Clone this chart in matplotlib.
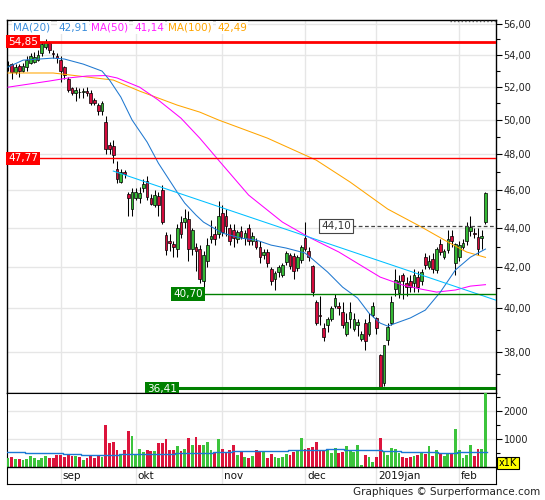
import numpy as np
import matplotlib.pyplot as plt
from matplotlib.ticker import FixedLocator, FixedFormatter, NullFormatter

plt.rcParams['font.family'] = ['DejaVu Sans']

W, H = 545, 500

# daily candles, index 0 = mid august 2018, last = feb 2019
opens = [53.3, 53.4, 52.9, 53.3, 52.95, 53.2, 53.5, 53.55, 53.7, 54.1,
         54.5, 54.75, 54.1, 53.95, 53.7, 53.2, 52.5, 51.9, 51.6, 51.7,
         51.7, 51.75, 51.6, 51.2, 50.9, 50.5, 49.9, 48.55, 48.5, 47.2,
         46.45, 47.0, 45.8, 45.0, 45.6, 45.6, 46.1, 46.5, 45.6, 45.2,
         45.7, 46.0, 43.65, 43.3, 43.15, 42.9, 44.3, 44.3, 44.45, 42.9,
         43.0, 42.9, 41.3, 42.3, 43.4, 43.7, 43.7, 44.8, 44.6, 44.0,
         43.9, 43.4, 43.85, 43.5, 44.0, 43.3, 43.3, 43.0, 42.6, 42.75,
         41.9, 41.4, 41.75, 41.6, 42.25, 42.6, 42.55, 41.95, 42.35, 43.5,
         42.8, 42.05, 40.3, 39.7, 39.1, 39.2, 39.5, 40.1, 40.1, 39.85,
         38.8, 39.5, 39.05, 39.2, 38.6, 39.3, 38.8, 39.7, 39.55, 37.85,
         36.6, 38.55, 39.3, 40.95, 40.75, 41.6, 41.2, 41.3, 41.2, 41.5,
         41.3, 42.5, 42.0, 42.4, 41.85, 43.15, 42.5, 42.85, 43.6, 42.2,
         42.5, 43.0, 43.3, 43.85, 43.75, 43.55, 43.5, 44.3]
highs = [53.6, 53.5, 53.4, 53.4, 53.5, 53.9, 54.1, 54.2, 54.3, 54.8,
         55.0, 54.9, 54.3, 54.1, 53.9, 53.3, 52.6, 52.0, 52.0, 51.9,
         51.9, 52.0, 51.8, 51.3, 51.0, 51.1, 50.2, 48.7, 48.8, 47.6,
         47.2, 47.1, 45.9, 46.1, 46.1, 46.2, 46.6, 46.8, 45.8, 46.0,
         45.9, 46.3, 43.8, 43.7, 43.3, 44.2, 44.6, 45.0, 44.9, 44.0,
         43.2, 43.1, 42.8, 43.5, 44.4, 44.1, 45.4, 45.2, 45.0, 44.2,
         44.2, 43.9, 44.1, 43.9, 44.2, 43.8, 43.5, 43.3, 42.9, 42.9,
         42.0, 41.8, 42.1, 42.2, 42.8, 42.7, 42.7, 42.6, 43.1, 44.3,
         43.0, 42.1, 40.4, 40.6, 39.3, 39.6, 40.1, 40.7, 40.3, 40.3,
         39.8, 40.3, 39.8, 39.5, 38.95, 39.5, 39.8, 40.3, 39.6, 37.9,
         38.3, 39.3, 40.6, 41.9, 41.6, 41.7, 41.5, 41.6, 41.9, 41.8,
         41.9, 42.7, 42.6, 42.7, 43.0, 43.4, 42.9, 43.9, 43.9, 43.2,
         43.3, 43.4, 44.3, 44.6, 44.0, 44.0, 43.9, 45.9]
lows = [53.0, 52.5, 52.8, 52.6, 52.9, 53.0, 53.4, 53.5, 53.6, 53.9,
        54.4, 54.1, 53.8, 53.5, 52.3, 52.5, 51.7, 51.5, 51.1, 51.3,
        51.3, 51.4, 50.9, 50.9, 50.3, 50.3, 48.0, 48.0, 47.5, 46.4,
        46.4, 46.7, 44.6, 44.6, 45.5, 45.3, 45.9, 45.5, 45.2, 45.1,
        44.6, 44.2, 42.6, 42.8, 42.5, 42.5, 43.5, 44.0, 42.3, 42.6,
        41.8, 41.2, 41.0, 42.0, 43.2, 43.1, 43.5, 43.6, 43.6, 43.1,
        43.0, 43.2, 43.4, 43.1, 43.1, 43.1, 42.9, 42.2, 42.4, 42.0,
        41.1, 40.9, 41.5, 41.5, 42.1, 41.9, 41.4, 41.8, 42.2, 42.8,
        42.3, 40.6, 39.2, 39.2, 38.5, 38.9, 39.4, 40.0, 39.7, 39.1,
        38.7, 39.1, 38.95, 38.7, 38.5, 38.1, 38.7, 39.6, 38.8, 36.41,
        36.5, 38.3, 39.2, 40.6, 40.5, 40.45, 40.6, 40.8, 40.8, 40.8,
        41.1, 41.9, 41.9, 41.7, 41.7, 42.6, 42.4, 42.7, 43.0, 41.6,
        42.3, 42.9, 43.1, 43.6, 43.5, 42.6, 42.9, 44.2]
closes = [53.35, 52.9, 53.2, 52.95, 53.3, 53.7, 53.9, 53.85, 54.0, 54.7,
          54.8, 54.3, 54.05, 53.8, 53.0, 52.7, 51.8, 51.6, 51.8, 51.65,
          51.75, 51.6, 51.0, 51.0, 50.5, 51.0, 48.3, 48.3, 47.95, 46.6,
          47.0, 46.9, 45.6, 45.9, 45.9, 45.85, 46.35, 45.65, 45.25, 45.75,
          45.2, 44.3, 42.85, 43.2, 43.0, 44.0, 43.7, 44.5, 42.9, 43.9,
          42.8, 41.4, 42.6, 43.1, 43.6, 43.4, 44.6, 43.8, 44.1, 43.3,
          43.5, 43.8, 43.55, 43.75, 43.3, 43.6, 43.0, 42.5, 42.75, 42.2,
          41.3, 41.7, 42.0, 42.1, 42.7, 42.05, 41.8, 42.5, 43.0, 42.9,
          42.5, 40.8, 39.3, 39.65, 38.65, 39.5, 40.0, 40.5, 40.0, 39.2,
          39.35, 39.85, 39.5, 39.35, 38.8, 38.5, 39.35, 40.1, 39.1, 36.45,
          38.3, 39.15, 40.3, 41.35, 41.3, 41.3, 41.05, 41.05, 41.6, 41.05,
          41.75, 42.1, 42.3, 41.9, 42.9, 42.75, 42.8, 43.4, 43.3, 43.15,
          43.1, 43.2, 44.1, 44.05, 43.7, 42.9, 43.6, 45.85]
volumes = [320, 360, 280, 280, 250, 280, 390, 320, 250, 320,
           390, 320, 320, 420, 420, 360, 480, 400, 390, 360,
           250, 320, 420, 310, 400, 360, 1510, 860, 910, 590,
           450, 625, 1300, 1100, 480, 650, 520, 590, 570, 560,
           840, 875, 990, 625, 625, 760, 560, 650, 1030, 800,
           1070, 800, 800, 900, 590, 530, 1000, 660, 510, 590,
           800, 420, 560, 350, 330, 390, 625, 580, 570, 330,
           450, 350, 310, 350, 450, 420, 530, 590, 1030, 660,
           680, 700, 900, 625, 570, 590, 510, 690, 500, 520,
           760, 610, 520, 800, 70, 420, 340, 180, 360, 1030,
           520, 430, 690, 660, 500, 360, 310, 360, 390, 440,
           500, 480, 760, 390, 590, 500, 390, 480, 510, 1375,
           610, 320, 440, 800, 410, 650, 650, 2700]
# weekly average volume (one value per 5 bars)
vol_avg = [520, 500, 500, 480, 440, 420, 450, 480, 480, 490, 500, 520, 560,
           570, 570, 590, 625, 640, 610, 590, 570, 530, 520, 500, 520, 520]

# moving averages (bar index, value)
ma20_idx = [0, 4, 12, 15, 20, 25, 27, 30, 33, 37, 40, 45, 47, 50, 52, 57, 62, 66,
            70, 74, 79, 81, 85, 89, 93, 96, 99, 101, 104, 107, 111, 115, 119, 123, 127]
ma20_val = [53.22, 53.66, 53.79, 53.73, 53.41, 52.97, 52.41, 51.37, 49.99, 48.70,
            47.50, 45.90, 45.31, 44.67, 44.30, 43.73, 43.47, 43.37, 43.11, 42.96,
            42.71, 42.40, 41.76, 41.02, 40.49, 39.78, 39.31, 39.17, 39.36, 39.55,
            39.92, 40.78, 41.86, 42.50, 42.91]
ma50_idx = [0, 11, 16, 21, 26, 29, 35, 40, 46, 51, 56, 64, 73, 80, 88, 95, 99,
            105, 110, 114, 119, 123, 127]
ma50_val = [51.97, 52.35, 52.54, 52.66, 52.69, 52.54, 51.97, 51.18, 50.10, 48.93,
            47.67, 45.74, 44.30, 43.52, 42.76, 41.96, 41.51, 41.12, 40.92, 40.78,
            40.88, 41.07, 41.14]
ma100_idx = [0, 12, 21, 28, 35, 45, 51, 56, 69, 82, 91, 101, 110, 117, 122, 127]
ma100_val = [52.85, 52.85, 52.60, 52.41, 51.73, 50.88, 50.46, 49.99, 48.93, 47.67,
             46.45, 44.99, 44.04, 43.27, 42.76, 42.49]

trend_idx = [28, 129.8]
trend_val = [47.06, 40.39]

level_vals = [54.85, 47.77, 44.10, 40.70, 36.41]
level_text = ['54,85', '47,77', '44,10', '40,70', '36,41']
level_start = [-0.27, -0.27, 91.5, 52.1, 45.2]

months = ['sep', 'okt', 'nov', 'dec', '2019jan', 'feb']
month_idx = [14, 34, 57, 79, 98, 120]

price_ticks = [38, 40, 42, 44, 46, 48, 50, 52, 54, 56]
price_minor = [37, 39, 41, 43, 45, 47, 49, 51, 53, 55]

RED = '#d40a3c'
GREEN = '#34b834'
GRID = '#e6e6e6'
XMIN, XMAX = -0.27, 129.8


def px(x, y):
    return x / W, 1 - y / H


fig = plt.figure(figsize=(W / 100, H / 100), dpi=100)
ax = fig.add_axes([7 / W, 1 - 393 / H, 489 / W, 373 / H])
axv = fig.add_axes([7 / W, 1 - 484 / H, 489 / W, 91 / H])

x = np.arange(len(closes))
o = np.array(opens)
c = np.array(closes)
hi = np.array(highs)
lo = np.array(lows)
up = c >= o
col = np.where(up, GREEN, RED)

# price panel
ax.set_yscale('log')
ax.set_xlim(XMIN, XMAX)
ax.set_ylim(36.19, 56.27)
ax.vlines(x, lo, hi, color='black', lw=0.75, zorder=3)
ax.bar(x, np.maximum(np.abs(c - o), 0.04), bottom=np.minimum(o, c), width=0.72,
       color=col, edgecolor='black', linewidth=0.5, zorder=4)

ax.plot(ma100_idx, ma100_val, color='#ffa500', lw=0.75, zorder=5)
ax.plot(ma50_idx, ma50_val, color='#ff00ff', lw=0.75, zorder=5)
ax.plot(ma20_idx, ma20_val, color='#1f78d0', lw=0.75, zorder=5)
ax.plot(trend_idx, trend_val, color='#00bfff', lw=0.75, zorder=5)

# support / resistance levels
ax.axhline(level_vals[0], color='#ff0000', lw=2.0, zorder=6)
ax.axhline(level_vals[1], color='#ff0000', lw=1.0, zorder=6)
ax.plot([level_start[2], XMAX], [level_vals[2]] * 2, color='#444444', lw=0.9,
        ls=(0, (3, 2)), zorder=6)
ax.plot([level_start[3], XMAX], [level_vals[3]] * 2, color='#008000', lw=1.0, zorder=6)
ax.plot([level_start[4], XMAX], [level_vals[4]] * 2, color='#008000', lw=2.2, zorder=6)

box_red = dict(boxstyle='square,pad=0.18', fc='#ff0000', ec='none')
box_green = dict(boxstyle='square,pad=0.18', fc='#008000', ec='none')
ax.text(0.0, level_vals[0], level_text[0], color='white', fontsize=7.5, ha='left',
        va='center', bbox=box_red, zorder=7)
ax.text(0.0, level_vals[1], level_text[1], color='white', fontsize=7.5, ha='left',
        va='center', bbox=box_red, zorder=7)
ax.text(level_start[2] - 0.3, level_vals[2], level_text[2], color='#333333', fontsize=7.5,
        ha='right', va='center', zorder=7,
        bbox=dict(boxstyle='square,pad=0.18', fc='white', ec='#444444', lw=0.8))
ax.text(level_start[3] - 0.3, level_vals[3], level_text[3], color='white', fontsize=7.5,
        ha='right', va='center', bbox=box_green, zorder=7)
ax.text(level_start[4] - 0.3, level_vals[4] - 0.05, level_text[4], color='white', fontsize=7.5,
        ha='right', va='center', bbox=box_green, zorder=7, clip_on=True)

ax.yaxis.tick_right()
ax.yaxis.set_major_locator(FixedLocator(price_ticks))
ax.yaxis.set_major_formatter(FixedFormatter([('%.2f' % v).replace('.', ',') for v in price_ticks]))
ax.yaxis.set_minor_locator(FixedLocator(price_minor))
ax.yaxis.set_minor_formatter(NullFormatter())
ax.set_xticks(month_idx)
ax.tick_params(axis='x', length=0, labelbottom=False)
ax.tick_params(axis='y', which='major', length=4, width=0.8, pad=1.5, labelsize=7,
               labelcolor='#222222')
ax.tick_params(axis='y', which='minor', length=3, width=0.8)
ax.grid(True, which='major', color=GRID, lw=1)
ax.set_axisbelow(True)
for s in ax.spines.values():
    s.set_linewidth(1.0)

# top dotted marker
ax.plot([117.5, XMAX], [56.22, 56.22], color='#555555', lw=1, ls=':', zorder=6)

# volume panel
axv.set_xlim(XMIN, XMAX)
axv.set_ylim(-607, 2643)
axv.bar(x, volumes, width=0.75, color=np.where(up, '#3cc43c', '#dc143c'), zorder=3)
avg_x = [5 * i - 0.5 for i in range(len(vol_avg))] + [len(closes) - 0.5]
axv.step(avg_x, vol_avg + [vol_avg[-1]], where='post', color='#1a78d4', lw=1.0, zorder=4)
axv.axhline(0, color='black', lw=1.0, zorder=5)
axv.yaxis.tick_right()
axv.set_yticks([1000, 2000])
axv.set_yticklabels(['1000', '2000'])
axv.yaxis.set_minor_locator(FixedLocator([500, 1500, 2500]))
axv.set_xticks(month_idx)
axv.tick_params(axis='x', length=0, labelbottom=False)
axv.tick_params(axis='y', which='major', length=4, width=0.8, pad=1.5, labelsize=7,
                labelcolor='#222222')
axv.tick_params(axis='y', which='minor', length=3, width=0.8)
axv.grid(True, which='major', color=GRID, lw=1)
axv.set_axisbelow(True)
for m, i in zip(months, month_idx):
    axv.text(i + 0.5, -330, m, fontsize=7.5, ha='left', va='center', color='#111111')

# legend
legend = [('MA(20)', 13, '#3a8ddc'), ('42,91', 58, '#3a8ddc'),
          ('MA(50)', 91, '#ff22ff'), ('41,14', 134, '#ff22ff'),
          ('MA(100)', 168, '#ffa500'), ('42,49', 217, '#ffa500')]
for t, lx, lc in legend:
    fig.text(*px(lx, 27.5), t, color=lc, fontsize=7.5, ha='left', va='center',
             bbox=dict(boxstyle='square,pad=0.1', fc='white', ec='none'))

fig.text(*px(508, 463), 'x1K', fontsize=7, ha='center', va='center', color='black',
         bbox=dict(boxstyle='square,pad=0.15', fc='#ffff00', ec='black', lw=0.8))
fig.text(*px(540, 492), 'Graphiques \u00a9 Surperformance.com', fontsize=7.5,
         ha='right', va='center', color='#222222')

fig.savefig('out.png', dpi=100)
